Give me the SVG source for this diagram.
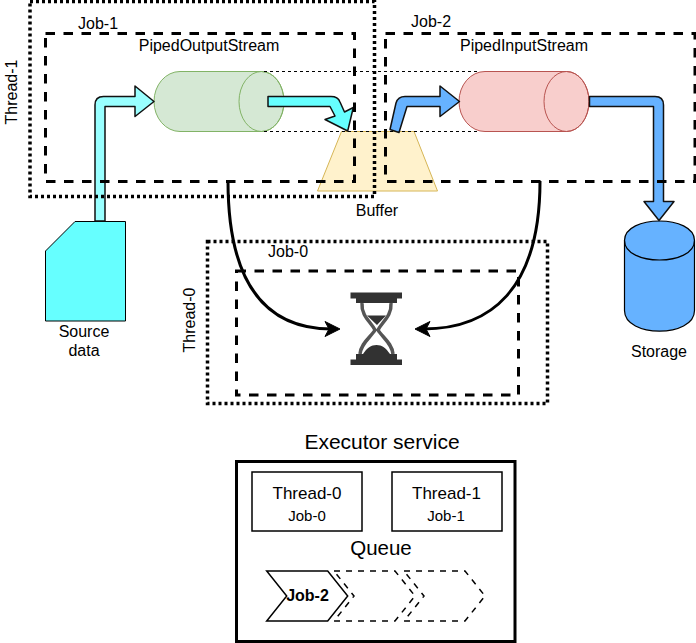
<svg xmlns="http://www.w3.org/2000/svg" width="696" height="643" viewBox="0 0 696 643">
<style>
text{font-family:"Liberation Sans",Arial,sans-serif;fill:#000;font-size:16px}
.m{text-anchor:middle}
.dot{fill:none;stroke:#000;stroke-width:3.500;stroke-dasharray:3 3}
.dash{fill:none;stroke:#000;stroke-width:3;stroke-dasharray:9.500 8.500}
.thin{fill:none;stroke:#000;stroke-width:1;stroke-dasharray:3 3}
.arr{stroke:#111;stroke-width:1.500;stroke-linejoin:round}
.cy{fill:#66FFFF}.bl{fill:#66B2FF}
.chev{fill:none;stroke:#000;stroke-width:1.500}
</style>
<defs><filter id="soft" x="-10%" y="-10%" width="120%" height="120%"><feGaussianBlur stdDeviation="0.600"/></filter></defs>
<rect width="696" height="643" fill="#fff"/>
<g id="buffer"><path d="M341.500 131.500H414L437.500 191H317.500Z" fill="#FFF2CC" stroke="#D6B656"/><text class="m" x="377" y="216">Buffer</text></g>
<g id="source-data"><path d="M75 221.500H125.500V321H45.500V251Z" fill="#66FFFF" stroke="#000"/><text class="m" x="84" y="337">Source</text><text class="m" x="84" y="356">data</text></g>
<g id="storage"><path d="M624.500 240.500C624.500 214.500 694.500 214.500 694.500 240.500V310.500C694.500 338 624.500 338 624.500 310.500Z" fill="#66B2FF" stroke="#000" stroke-width="1.200"/><path d="M624.500 240.500C624.500 266.500 694.500 266.500 694.500 240.500" fill="none" stroke="#000" stroke-width="1.200"/><text class="m" x="659" y="357">Storage</text></g>
<g id="piped-output"><path d="M180 71.500H261.500A22.500 30 0 0 1 261.500 131.500H180A26 30 0 0 1 180 71.500Z" fill="#D5E8D4" stroke="#82B366"/><ellipse cx="261.500" cy="101.500" rx="22.500" ry="30" fill="none" stroke="#82B366"/><text class="m" x="209" y="51">PipedOutputStream</text></g>
<g id="piped-input"><path d="M485 71.500H566.500A22.500 30 0 0 1 566.500 131.500H485A26 30 0 0 1 485 71.500Z" fill="#F8CECC" stroke="#B85450"/><ellipse cx="566.500" cy="101.500" rx="22.500" ry="30" fill="none" stroke="#B85450"/><text class="m" x="524" y="51">PipedInputStream</text></g>
<g id="connectors">
<path class="thin" d="M264 71.500H480M264 131.500H480"/>
<path class="arr" fill="#99FFFF" d="M95 221V105Q95 96.500 103.500 96.500H135V86L154 101.500L135 116.500V106.500H105V221Z"/>
<path class="arr cy" d="M268 96.500H331Q338 96.500 340 102L344.500 112L353.300 107.500L347.700 131L325 119.500L335 116L330 106.500H268Z"/>
<path class="arr bl" d="M390 129.500L396 103Q398 96.500 405 96.500H440V86L459.500 101.500L440 116.500V106.500H407L399 132.500Z"/>
<path class="arr bl" d="M589.500 96.500H655Q663.500 96.500 663.500 105V201.500H674L659 220.500L644 201.500H653.500V106.500H589.500Z"/>
<path d="M228 181C228 290 270 329 332 329M540 181C540 290 490 329 423 329" fill="none" stroke="#000" stroke-width="3"/>
<path d="M340 329L325 321.500L329 329L325 336.500ZM415 329L430 321.500L426 329L430 336.500Z" fill="#000" stroke="#000"/>
</g>
<g id="thread-1"><rect class="dot" x="30" y="1.500" width="344.500" height="195"/><text transform="translate(16.500 92) rotate(-90)" class="m">Thread-1</text></g>
<g id="job-1"><rect class="dash" x="45.500" y="33.500" width="309" height="148"/><text x="78" y="29">Job-1</text></g>
<g id="job-2"><rect class="dash" x="385.500" y="33.500" width="309.500" height="148"/><text x="411" y="27">Job-2</text></g>
<g id="thread-0"><rect class="dot" x="207.500" y="241.500" width="340" height="162"/><text transform="translate(195 320) rotate(-90)" class="m">Thread-0</text></g>
<g id="job-0"><rect class="dash" x="236.500" y="271" width="282" height="124"/><text x="268" y="257">Job-0</text></g>
<g id="hourglass" filter="url(#soft)">
<path d="M350.500 292.500H402V298.500H397V303H356V298.500H350.500ZM350.500 365V359.500H356V354H363C367 348 371 345 376.500 345C382 345 386 348 390 354H397V359.500H402V365ZM367 315.500H386L377 325Z" fill="#333"/>
<path d="M362 303C361 316 371 322 375 330C371 337 361 343 360 354M391 303C392 316 382 322 378 330C382 337 392 343 393 354" fill="none" stroke="#555" stroke-width="3.500"/>
</g>
<g id="executor-service"><text class="m" x="382" y="449" style="font-size:21px">Executor service</text><rect x="236.500" y="461.500" width="278.500" height="180" fill="none" stroke="#000" stroke-width="3"/></g>
<g id="slot-0"><rect x="252" y="472" width="110" height="59" fill="none" stroke="#000" stroke-width="1.500"/><text class="m" x="307" y="499" style="font-size:17px">Thread-0</text><text class="m" x="307" y="521" style="font-size:15px">Job-0</text></g>
<g id="slot-1"><rect x="392" y="472" width="110" height="59" fill="none" stroke="#000" stroke-width="1.500"/><text class="m" x="446.500" y="499" style="font-size:17px">Thread-1</text><text class="m" x="446" y="521" style="font-size:15px">Job-1</text></g>
<g id="queue"><text class="m" x="381" y="555" style="font-size:20.500px">Queue</text></g>
<g id="chevron-3"><path class="chev" stroke-dasharray="6 6" d="M404 571H465L485 596L465 621H404L424 596Z"/></g>
<g id="chevron-2"><path class="chev" stroke-dasharray="6 6" d="M334 571H395L415 596L395 621H334L354 596Z"/></g>
<g id="job-2-chevron"><path class="chev" d="M266.700 571H327.700L347.700 596L327.700 621H266.700L286.700 596Z"/><text class="m" x="307.500" y="601" style="font-weight:700">Job-2</text></g>
</svg>
